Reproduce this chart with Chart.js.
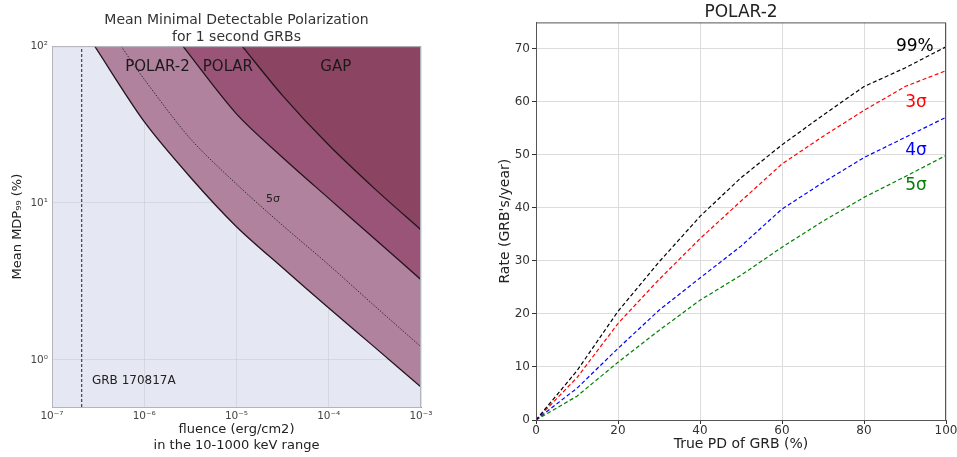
<!DOCTYPE html>
<html>
<head>
<meta charset="utf-8">
<script src="https://cdn.jsdelivr.net/npm/chart.js@4.4.1/dist/chart.umd.min.js"></script>
<style>
  html, body { margin: 0; padding: 0; background: #fff; overflow: hidden; }
  #left { position: absolute; left: 0; top: 0; width: 445px; height: 457px; }
  #right { position: absolute; left: 470px; top: 0; width: 490px; height: 457px; }
</style>
</head>
<body>
<div id="left"><canvas id="mdpChart"></canvas></div>
<div id="right"><canvas id="rateChart"></canvas></div>
<script>
// left panel: mean MDP99 vs fluence (erg/cm2), log-log
const fluenceTicks = [1e-7, 1e-6, 1e-5, 1e-4, 1e-3];
const mdpTicks = [1, 10, 100];
const mdpRange = [0.5, 100];
const grbFluence = 2.1e-7; // GRB 170817A

const polar2Fluence = [2.9e-7, 1e-6, 3.16e-6, 1e-5, 3.16e-5, 1e-4, 3.16e-4, 1e-3];
const polar2Mdp = [100, 33, 14.6, 7.06, 3.86, 2.14, 1.2, 0.67];
const polar2SigmaFluence = [5.6e-7, 1e-6, 3.16e-6, 1e-5, 3.16e-5, 1e-4, 3.16e-4, 1e-3];
const polar2SigmaMdp = [100, 61.5, 25.7, 13.2, 7.2, 4.03, 2.2, 1.21];
const polarFluence = [2.62e-6, 1e-5, 3.16e-5, 1e-4, 3.16e-4, 1e-3];
const polarMdp = [100, 37, 19.5, 10.7, 5.9, 3.24];
const gapFluence = [1.15e-5, 3.16e-5, 1e-4, 3.16e-4, 1e-3];
const gapMdp = [100, 48.4, 23.4, 12.3, 6.73];

// right panel: detection rate vs true PD
const truePd = [0, 10, 20, 30, 40, 50, 60, 70, 80, 90, 100];
const rate99 = [0, 9.3, 20.5, 29.8, 38.4, 45.7, 51.9, 57.5, 62.9, 66.4, 70.4];
const rate3s = [0, 8.0, 18.2, 26.5, 34.2, 41.3, 48.3, 53.5, 58.4, 62.9, 65.9];
const rate4s = [0, 6.0, 13.5, 20.7, 26.8, 32.8, 39.8, 44.8, 49.5, 53.3, 57.1];
const rate5s = [0, 4.5, 10.9, 16.9, 22.6, 27.3, 32.6, 37.5, 42.0, 45.9, 49.9];

const FONT = "'DejaVu Sans', sans-serif";
const pairs = (xs, ys) => xs.map((x, i) => ({ x: x, y: ys[i] }));

const sup = { '-': '⁻', '0': '⁰', '1': '¹', '2': '²', '3': '³', '4': '⁴', '5': '⁵', '6': '⁶', '7': '⁷', '8': '⁸', '9': '⁹' };
const pow10 = v => '10' + String(Math.round(Math.log10(v))).split('').map(c => sup[c]).join('');

// area background + frame
function frame(bg, stroke) {
    return {
        id: 'frame',
        beforeDraw(chart) {
            if (!bg) return;
            const { ctx, chartArea: a } = chart;
            ctx.save();
            ctx.fillStyle = bg;
            ctx.fillRect(a.left, a.top, a.width, a.height);
            ctx.restore();
        },
        afterDraw(chart) {
            const { ctx, chartArea: a } = chart;
            ctx.save();
            ctx.strokeStyle = stroke;
            ctx.lineWidth = 1;
            ctx.strokeRect(a.left + 0.5, a.top + 0.5, a.width - 1, a.height);
            ctx.restore();
        }
    };
}

// text written inside the plot, placed in data coordinates
function labels(items) {
    return {
        id: 'labels',
        afterDraw(chart) {
            const { ctx, scales: { x, y } } = chart;
            ctx.save();
            ctx.textBaseline = 'middle';
            items.forEach(t => {
                ctx.font = t.font;
                ctx.fillStyle = t.color;
                ctx.textAlign = t.align || 'center';
                ctx.fillText(t.text, x.getPixelForValue(t.x), y.getPixelForValue(t.y));
            });
            ctx.restore();
        }
    };
}

const lineColor = '#24151c';

new Chart(document.getElementById('mdpChart'), {
    type: 'line',
    data: {
        datasets: [
            {
                label: 'GRB 170817A',
                data: [{ x: grbFluence, y: mdpRange[0] }, { x: grbFluence, y: mdpRange[1] }],
                borderColor: '#222', borderWidth: 1, borderDash: [3, 2],
                pointRadius: 0, fill: false
            },
            {
                label: 'GAP',
                data: pairs(gapFluence, gapMdp),
                borderColor: lineColor, borderWidth: 1.3, backgroundColor: '#8c4463',
                fill: 'end', pointRadius: 0, tension: 0.3
            },
            {
                label: 'POLAR',
                data: pairs(polarFluence, polarMdp),
                borderColor: lineColor, borderWidth: 1.3, backgroundColor: '#9a5478',
                fill: 'end', pointRadius: 0, tension: 0.3
            },
            {
                label: 'POLAR-2 5σ',
                data: pairs(polar2SigmaFluence, polar2SigmaMdp),
                borderColor: '#3a2a32', borderWidth: 1, borderDash: [1.5, 1.5],
                fill: false, pointRadius: 0, tension: 0.3
            },
            {
                label: 'POLAR-2',
                data: pairs(polar2Fluence, polar2Mdp),
                borderColor: lineColor, borderWidth: 1.3, backgroundColor: '#b0829d',
                fill: 'end', pointRadius: 0, tension: 0.3
            }
        ]
    },
    options: {
        responsive: true,
        maintainAspectRatio: false,
        animation: false,
        layout: { padding: { left: 0, right: 24, top: 0, bottom: 0 } },
        plugins: {
            legend: { display: false },
            tooltip: { enabled: false },
            title: {
                display: true,
                fullSize: false,
                text: ['Mean Minimal Detectable Polarization', 'for 1 second GRBs'],
                color: '#333',
                font: { family: FONT, size: 14, weight: 'normal', lineHeight: 1.22 },
                padding: { top: 12, bottom: 0 }
            }
        },
        scales: {
            x: {
                type: 'logarithmic',
                min: fluenceTicks[0],
                max: fluenceTicks[fluenceTicks.length - 1],
                z: 1,
                afterBuildTicks: s => { s.ticks = fluenceTicks.map(v => ({ value: v })); },
                afterFit: s => { s.height = 50; },
                grid: { color: 'rgba(200,200,214,0.55)', drawTicks: false },
                border: { color: '#999' },
                ticks: {
                    color: '#444', font: { family: FONT, size: 10.5 }, padding: 3,
                    maxRotation: 0, autoSkip: false, callback: v => pow10(v)
                },
                title: {
                    display: true,
                    text: ['fluence (erg/cm2)', 'in the 10-1000 keV range'],
                    color: '#222',
                    font: { family: FONT, size: 13, lineHeight: 1.23 },
                    padding: { top: 0, bottom: 3 }
                }
            },
            y: {
                type: 'logarithmic',
                min: mdpRange[0],
                max: mdpRange[1],
                z: 1,
                afterBuildTicks: s => { s.ticks = mdpTicks.map(v => ({ value: v })); },
                afterFit: s => { s.width = 52; },
                grid: { color: 'rgba(200,200,214,0.55)', drawTicks: false },
                border: { color: '#999' },
                ticks: {
                    color: '#444', font: { family: FONT, size: 10.5 }, padding: 4,
                    autoSkip: false, callback: v => pow10(v)
                },
                title: {
                    display: true,
                    text: 'Mean MDP₉₉ (%)',
                    color: '#222',
                    font: { family: FONT, size: 13 },
                    padding: { top: 10, bottom: 0 }
                }
            }
        }
    },
    plugins: [
        frame('#e5e8f2', '#b4b4be'),
        labels([
            { text: 'POLAR-2', x: 1.39e-6, y: 73.5, font: `15px ${FONT}`, color: '#1a1a1a' },
            { text: 'POLAR', x: 8.07e-6, y: 73.5, font: `15px ${FONT}`, color: '#1a1a1a' },
            { text: 'GAP', x: 1.19e-4, y: 73.5, font: `15px ${FONT}`, color: '#1a1a1a' },
            { text: '5σ', x: 2.48e-5, y: 10.6, font: `11px ${FONT}`, color: '#222' },
            { text: 'GRB 170817A', x: 2.71e-7, y: 0.735, font: `12px ${FONT}`, color: '#222', align: 'left' }
        ])
    ]
});

const rateLine = (label, ys, color) => ({
    label: label,
    data: pairs(truePd, ys),
    borderColor: color,
    borderWidth: 1.2,
    borderDash: [4, 2.5],
    pointRadius: 0,
    fill: false,
    tension: 0
});

new Chart(document.getElementById('rateChart'), {
    type: 'line',
    data: {
        datasets: [
            rateLine('99%', rate99, '#000000'),
            rateLine('3σ', rate3s, '#ff0000'),
            rateLine('4σ', rate4s, '#0000ff'),
            rateLine('5σ', rate5s, '#008000')
        ]
    },
    options: {
        responsive: true,
        maintainAspectRatio: false,
        animation: false,
        layout: { padding: { left: 0, right: 14, top: 0, bottom: 0 } },
        plugins: {
            legend: { display: false },
            tooltip: { enabled: false },
            title: {
                display: true,
                fullSize: false,
                text: 'POLAR-2',
                color: '#222',
                font: { family: FONT, size: 17, weight: 'normal', lineHeight: 1.2 },
                padding: { top: 2, bottom: 0 }
            }
        },
        scales: {
            x: {
                type: 'linear',
                min: 0,
                max: 100,
                afterFit: s => { s.height = 37; },
                grid: { color: '#dcdcdc', tickColor: '#333', tickLength: 4 },
                border: { color: '#555' },
                ticks: { stepSize: 20, color: '#333', font: { family: FONT, size: 12 }, padding: 0, maxRotation: 0 },
                title: {
                    display: true,
                    text: 'True PD of GRB (%)',
                    color: '#222',
                    font: { family: FONT, size: 14 },
                    padding: { top: 0, bottom: 4 }
                }
            },
            y: {
                type: 'linear',
                min: 0,
                max: 75,
                afterFit: s => { s.width = 66; },
                grid: { color: '#dcdcdc', tickColor: '#333', tickLength: 4 },
                border: { color: '#555' },
                ticks: { stepSize: 10, includeBounds: false, color: '#333', font: { family: FONT, size: 12 }, padding: 2 },
                title: {
                    display: true,
                    text: "Rate (GRB's/year)",
                    color: '#222',
                    font: { family: FONT, size: 14 },
                    padding: { top: 27, bottom: 0 }
                }
            }
        }
    },
    plugins: [
        frame(null, '#555'),
        labels([
            { text: '99%', x: 92.4, y: 70.5, font: `17px ${FONT}`, color: '#000' },
            { text: '3σ', x: 92.7, y: 59.9, font: `17px ${FONT}`, color: '#ff0000' },
            { text: '4σ', x: 92.7, y: 50.8, font: `17px ${FONT}`, color: '#0000ff' },
            { text: '5σ', x: 92.7, y: 44.25, font: `17px ${FONT}`, color: '#008000' }
        ])
    ]
});
</script>
</body>
</html>
